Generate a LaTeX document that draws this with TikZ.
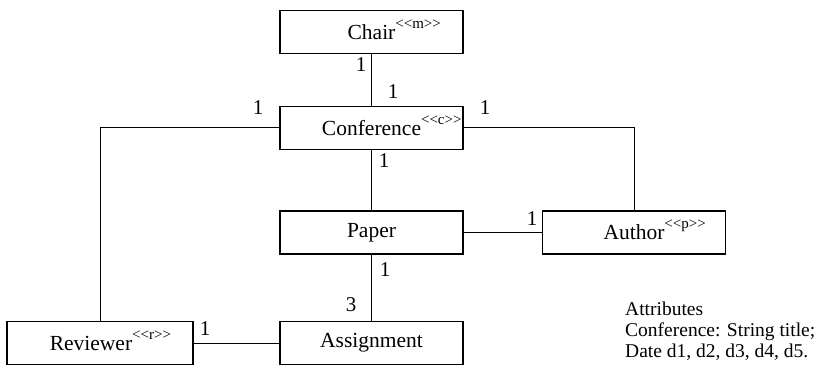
\documentclass[tikz,border=0pt]{standalone}
\usepackage{fontspec}
\setmainfont{Liberation Serif}
\newcommand{\stereo}[1]{\rlap{\smash{\raisebox{11pt}{\fontsize{15}{15}\selectfont\textless\kern0pt\textless\kern0pt #1\kern0pt\textgreater\kern0pt\textgreater}}}}
\begin{document}
\begin{tikzpicture}[x=1pt,y=-1pt,
  cls/.style={draw,line width=1.3pt,rectangle,minimum width=183pt,minimum height=43pt,inner sep=0pt,font=\fontsize{21.5}{24}\selectfont},
  conn/.style={line width=1pt},
  mult/.style={inner sep=0pt,font=\fontsize{21}{24}\selectfont},
  attr/.style={inner sep=0pt,anchor=north west,align=left,font=\fontsize{19.5}{21}\selectfont}]
\useasboundingbox (0,0) rectangle (838,374);
\node[cls] (chair) at (371.5,32) {Chair\stereo{m}};
\node[cls] (conf) at (371.5,128) {Conference\stereo{c}};
\node[cls] (paper) at (371.5,232.5) {Paper};
\node[cls] (author) at (634,232.5) {Author\stereo{p}};
\node[cls,minimum width=186pt] (reviewer) at (100,343) {\hspace*{-18pt}Reviewer\stereo{r}};
\node[cls] (assign) at (371.5,343) {Assignment};
\draw[conn] (chair) -- (conf);
\draw[conn] (conf.west) -| (reviewer.north);
\draw[conn] (conf.east) -| (author.north);
\draw[conn] (conf) -- (paper);
\draw[conn] (paper) -- (author);
\draw[conn] (paper) -- (assign);
\draw[conn] (reviewer) -- (assign);
\node[mult] (m1) at (361,65) {1};
\node[mult] (m2) at (393,92) {1};
\node[mult] (m3) at (258,108) {1};
\node[mult] (m4) at (485,108) {1};
\node[mult] (m5) at (384,161) {1};
\node[mult] (m6) at (532,219) {1};
\node[mult] (m7) at (385,270) {1};
\node[mult] (m8) at (351,305) {3};
\node[mult] (m9) at (205,329) {1};
\node[attr] (attrs) at (625,302) {Attributes\\Conference: String title;\\Date d1, d2, d3, d4, d5.};
\end{tikzpicture}
\end{document}
